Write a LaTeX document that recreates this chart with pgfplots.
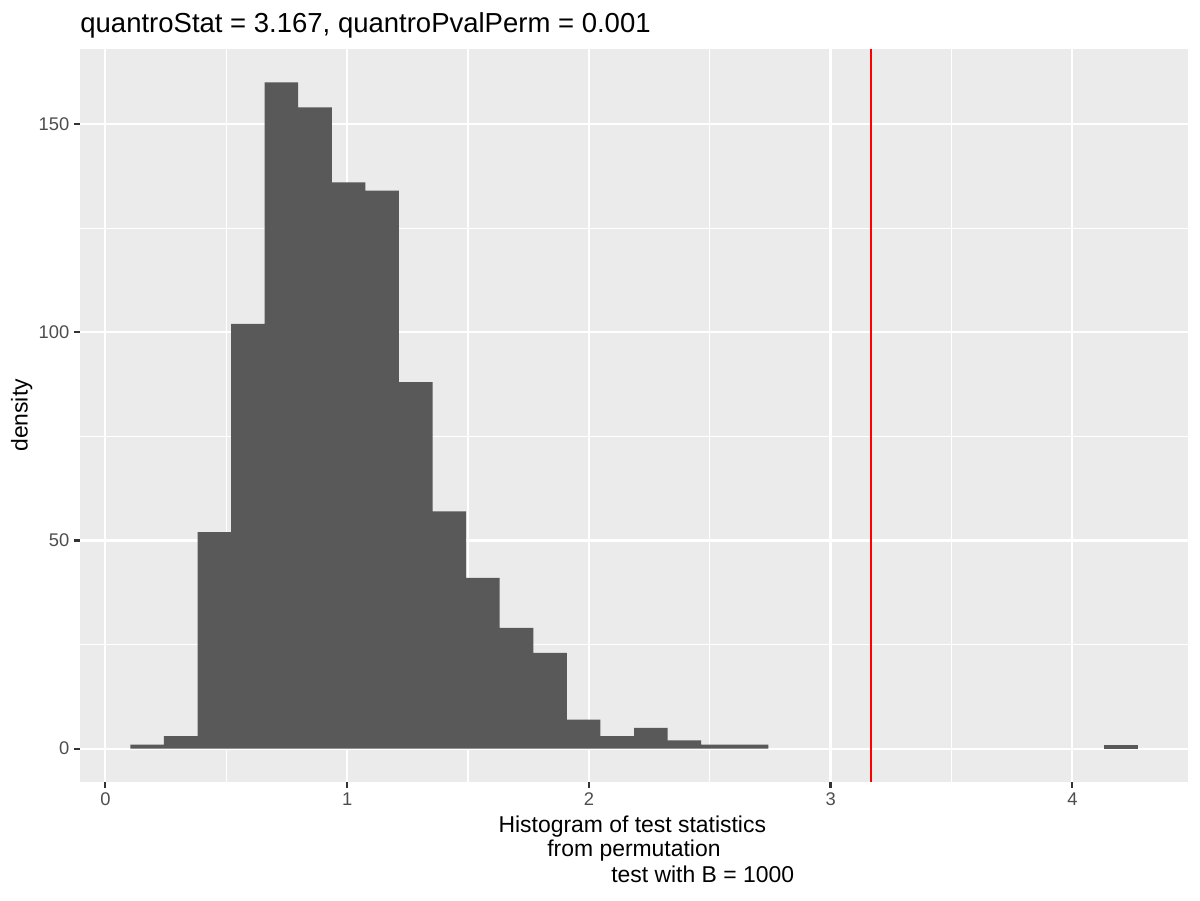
\documentclass[border=0pt]{standalone}
\usepackage{fontspec}
\setmainfont{Liberation Sans}
\usepackage{pgfplots}
\pgfplotsset{compat=1.18}
\definecolor{panelbg}{HTML}{EBEBEB}
\definecolor{barfill}{HTML}{595959}
\definecolor{grayt}{HTML}{4D4D4D}
\definecolor{grayk}{HTML}{333333}
\begin{document}
\begin{tikzpicture}[x=1pt,y=1pt]
\useasboundingbox (0,0) rectangle (576,432);
\begin{axis}[
  at={(38.4pt,56.64pt)}, anchor=south west,
  scale only axis, width=531.84pt, height=351.84pt,
  xmin=-0.1049, xmax=4.4784, ymin=-8, ymax=168,
  xtick={0,1,2,3,4}, ytick={0,50,100,150},
  minor xtick={0.5,1.5,2.5,3.5}, minor ytick={25,75,125},
  tick pos=left,
  grid=both,
  major grid style={white, line width=1.07pt},
  minor grid style={white, line width=0.53pt},
  minor tick length=0pt,
  major tick length=2.75pt,
  tick align=outside,
  major tick style={grayk, line width=1.07pt},
  axis line style={draw=none},
  axis background/.style={fill=panelbg},
  ticklabel style={font=\fontsize{8.8}{10}\selectfont, text=grayt},
  /pgf/number format/assume math mode=true,
  xticklabel style={anchor=north, inner sep=0pt, yshift=-2.2pt},
  yticklabel style={anchor=east, inner sep=0pt, xshift=-2.2pt},
  clip=true,
]
\addplot[ybar interval, fill=barfill, draw=none] coordinates {
  (0.1034,1) (0.2423,3) (0.3812,52) (0.5201,102) (0.6590,160)
  (0.7978,154) (0.9367,136) (1.0756,134) (1.2145,88) (1.3534,57)
  (1.4923,41) (1.6312,29) (1.7701,23) (1.9090,7) (2.0479,3)
  (2.1868,5) (2.3256,2) (2.4645,1) (2.6034,1) (2.7423,0)
};
\addplot[ybar interval, fill=barfill, draw=none] coordinates {
  (4.1312,1) (4.2701,0)
};
\addplot[red, line width=1.07pt] coordinates {(3.167,-8) (3.167,168)};
\end{axis}
\node[anchor=base west, inner sep=0pt, font=\fontsize{13.2}{15}\selectfont] at (38.4,416.6) {quantroStat = 3.167, quantroPvalPerm = 0.001};
\node[rotate=90, inner sep=0pt, font=\fontsize{11}{13}\selectfont] at (10.4,232.6) {density};
\node[anchor=base, inner sep=0pt, font=\fontsize{11}{13}\selectfont] at (303.5,32.3) {Histogram of test statistics};
\node[anchor=base, inner sep=0pt, font=\fontsize{11}{13}\selectfont] at (304.3,20.8) {from permutation};
\node[anchor=base, inner sep=0pt, font=\fontsize{11}{13}\selectfont] at (337.3,8.6) {test with B = 1000};
\end{tikzpicture}
\end{document}
